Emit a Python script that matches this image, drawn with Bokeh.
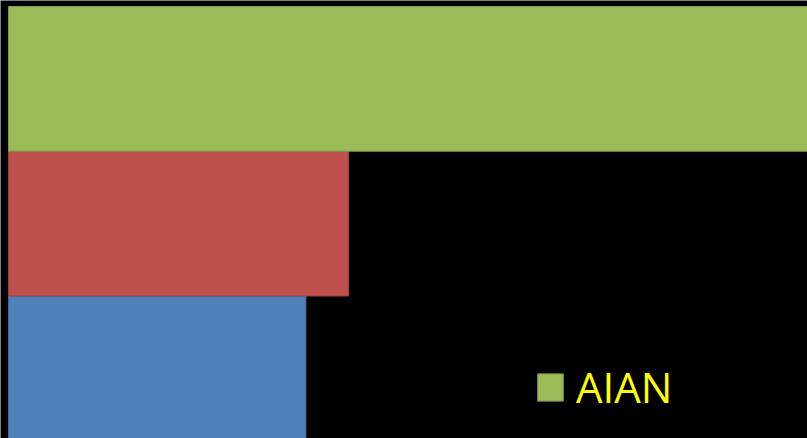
from bokeh.plotting import figure
from bokeh.models import Range1d, Legend, LegendItem
from bokeh.embed import file_html
from bokeh.resources import INLINE

# Data (series drawn bottom to top)
series = ["Series 1", "Series 2", "AIAN"]
values = [37.6, 43.0, 120.0]
positions = [0, 1, 2]
colors = ["#4F81BD", "#C0504D", "#9BBB59"]
borders = ["#41699A", "#9E413E", "#7F9A48"]
legend_series = ["AIAN"]

W, H = 807, 438
p = figure(width=W, height=H, output_backend="svg", toolbar_location=None,
           x_range=Range1d(-1.011, 101.01), y_range=Range1d(-0.4844, 2.5415),
           background_fill_color="black", border_fill_color="black",
           min_border=0, outline_line_color=None)
p.xaxis.visible = False
p.yaxis.visible = False
p.xgrid.visible = False
p.ygrid.visible = False

items = []
for name, v, y, c, b in zip(series, values, positions, colors, borders):
    r = p.hbar(y=[y], right=[v], left=0, height=1.0, fill_color=c,
               line_color=b, line_width=1)
    if name in legend_series:
        items.append(LegendItem(label=name, renderers=[r]))

legend = Legend(items=items, location=(534, 23), orientation="vertical",
                glyph_width=32, glyph_height=34, label_standoff=10,
                label_text_font="Open Sans", label_text_font_size="42px",
                label_text_color="#FFFF00", background_fill_alpha=0,
                border_line_color=None, padding=0, margin=0, spacing=0)
p.add_layout(legend, "center")

open("out.html", "w").write(file_html(p, INLINE))
